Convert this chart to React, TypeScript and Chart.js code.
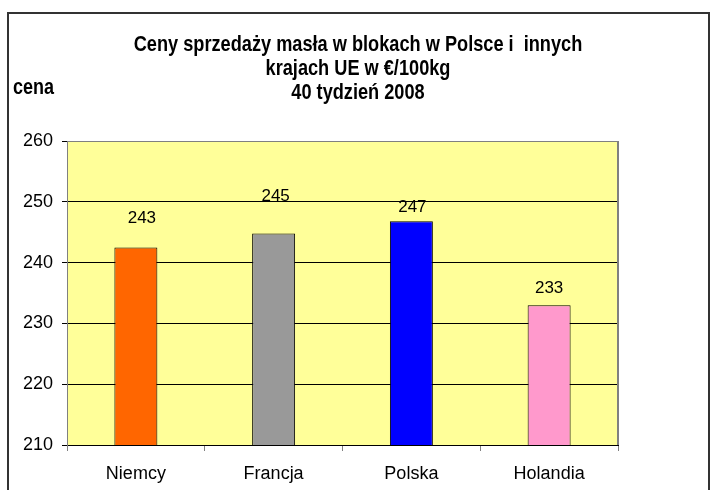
import React, { useEffect, useRef } from "react";
import { Chart, registerables } from "chart.js";

Chart.register(...registerables);

// ---- data ----
const categories = ["Niemcy", "Francja", "Polska", "Holandia"];
const prices = [242.5, 244.8, 246.8, 233.0];
const priceLabels = ["243", "245", "247", "233"];
const barColors = ["#FF6600", "#999999", "#0000FF", "#FF99CC"];
const yMin = 210;
const yMax = 260;
const yStep = 10;
const titleLines = [
  "Ceny sprzedaży masła w blokach w Polsce i  innych",
  "krajach UE w €/100kg",
  "40 tydzień 2008",
];
const yAxisTitle = "cena";
// manual placement of the value labels (px above bar top / px to the right)
const labelLift = [29, 37, 14, 17];
const labelShift = [6, 2, 1, 0];

const FONT = "'Liberation Sans', Arial, sans-serif";

const framePlugin = {
  id: "frame",
  beforeDraw(chart: any) {
    const { ctx, chartArea } = chart;
    ctx.save();
    ctx.fillStyle = "#FFFFFF";
    ctx.fillRect(0, 0, chart.width, chart.height);
    ctx.fillStyle = "#FFFF99";
    ctx.fillRect(
      chartArea.left,
      chartArea.top,
      chartArea.right - chartArea.left,
      chartArea.bottom - chartArea.top
    );
    // outer frame
    ctx.strokeStyle = "#333333";
    ctx.lineWidth = 2;
    ctx.strokeRect(8, 13, 701, 520);
    // title (vertically stretched text)
    ctx.fillStyle = "#000000";
    ctx.textAlign = "center";
    ctx.textBaseline = "alphabetic";
    const baselines = [50.7, 74.7, 98.7];
    titleLines.forEach((line, i) => {
      ctx.save();
      ctx.translate(358, baselines[i]);
      ctx.scale(1.01, 1.22);
      ctx.font = `bold 18px ${FONT}`;
      ctx.fillText(line, 0, 0);
      ctx.restore();
    });
    ctx.save();
    ctx.textAlign = "left";
    ctx.translate(13, 94.3);
    ctx.scale(1, 1.22);
    ctx.font = `bold 18px ${FONT}`;
    ctx.fillText(yAxisTitle, 0, 0);
    ctx.restore();
    ctx.restore();
  },
  afterDraw(chart: any) {
    const { ctx, chartArea } = chart;
    ctx.save();
    ctx.strokeStyle = "#808080";
    ctx.lineWidth = 2;
    ctx.beginPath();
    ctx.moveTo(chartArea.right, chartArea.top);
    ctx.lineTo(chartArea.right, chartArea.bottom);
    ctx.stroke();
    ctx.restore();
  },
};

const valueLabelPlugin = {
  id: "valueLabels",
  afterDatasetsDraw(chart: any) {
    const { ctx } = chart;
    const meta = chart.getDatasetMeta(0);
    ctx.save();
    ctx.font = `17px ${FONT}`;
    ctx.fillStyle = "#000000";
    ctx.textAlign = "center";
    ctx.textBaseline = "middle";
    meta.data.forEach((bar: any, i: number) => {
      ctx.fillText(priceLabels[i], bar.x + labelShift[i], bar.y - labelLift[i]);
    });
    ctx.restore();
  },
};

export default function App() {
  const canvasRef = useRef<HTMLCanvasElement | null>(null);

  useEffect(() => {
    if (!canvasRef.current) return;
    const chart = new Chart(canvasRef.current, {
      type: "bar",
      data: {
        labels: categories,
        datasets: [
          {
            data: prices,
            backgroundColor: barColors,
            borderColor: "#000000",
            borderWidth: 1,
            borderSkipped: false,
            barPercentage: 0.312,
            categoryPercentage: 1,
          },
        ],
      },
      options: {
        responsive: false,
        animation: false,
        devicePixelRatio: 1,
        layout: { padding: { top: 141, right: 94, left: 0, bottom: 0 } },
        plugins: {
          legend: { display: false },
          title: { display: false },
          tooltip: { enabled: false },
        },
        scales: {
          x: {
            afterFit(scale: any) {
              scale.height = 45;
            },
            grid: {
              display: true,
              drawOnChartArea: false,
              drawTicks: true,
              tickLength: 6,
              color: "#808080",
              offset: true,
            },
            border: { display: true, color: "#000000", width: 1 },
            ticks: {
              color: "#000000",
              padding: 12,
              font: { family: FONT, size: 18 },
            },
          },
          y: {
            min: yMin,
            max: yMax,
            afterFit(scale: any) {
              scale.width = 67;
            },
            grid: {
              color: (c: any) => (c.tick && c.tick.value === yMax ? "#808080" : "#000000"),
              tickColor: "#000000",
              tickLength: 5,
              lineWidth: 1,
            },
            border: { display: true, color: "#808080", width: 1 },
            ticks: {
              stepSize: yStep,
              color: "#000000",
              padding: 9,
              font: { family: FONT, size: 18 },
            },
          },
        },
      },
      plugins: [framePlugin, valueLabelPlugin],
    });
    return () => chart.destroy();
  }, []);

  return (
    <div style={{ position: "fixed", left: 0, top: 0, width: 712, height: 490, background: "#fff" }}>
      <canvas ref={canvasRef} width={712} height={490} style={{ width: 712, height: 490, display: "block" }} />
    </div>
  );
}
